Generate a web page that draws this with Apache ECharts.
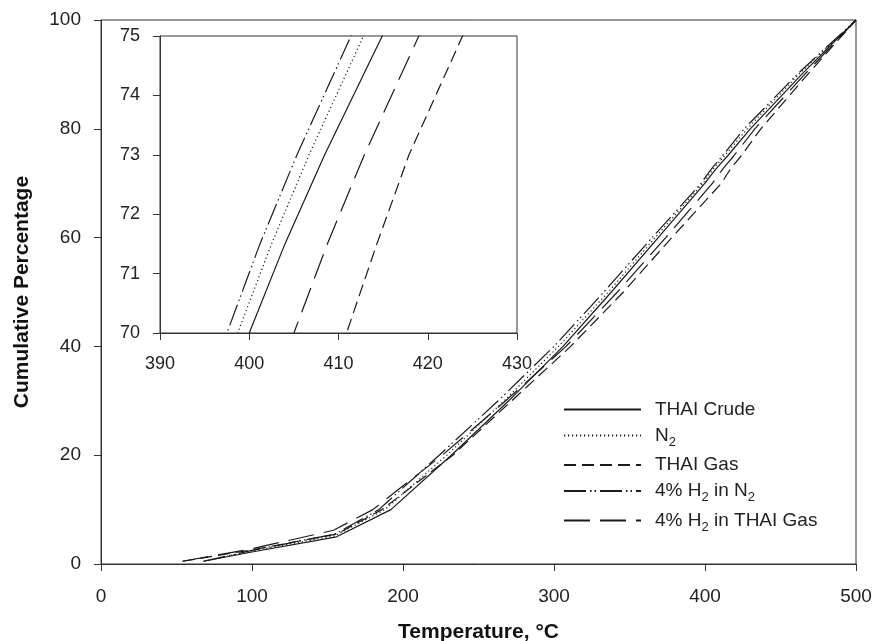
<!DOCTYPE html>
<html><head><meta charset="utf-8">
<script src="https://cdn.jsdelivr.net/npm/echarts@6/dist/echarts.min.js"></script>
<style>html,body{margin:0;padding:0;background:#fff}#c{width:875px;height:641px}</style>
</head><body><div id="c"></div>
<script>
// ---- data (temperature °C, cumulative %) ----
const seriesNames = ['THAI Crude', 'N2', 'THAI Gas', '4% H2 in N2', '4% H2 in THAI Gas'];
const thaiCrude = [[68,0.5],[100,2.2],[156,5],[192,10],[232,20],[270,30],[306,40],[338,50],[369,60],[400,70],[404.0,71.5],[408.45,73],[414.9,75],[430,80],[464,90],[500,100]];
const n2 = [[68,0.5],[100,2.4],[155,5.2],[188,10],[229,20],[267,30],[303,40],[336,50],[367,60],[398.7,70],[402.5,71.5],[406.7,73],[412.8,75],[428,80],[462,90],[500,100]];
const thaiGas = [[54,0.5],[100,2.6],[156,5.5],[186,10],[233,20],[272,30],[311,40],[346,50],[378,60],[410.9,70],[414.3,71.5],[417.9,73],[423.9,75],[437,80],[468,90],[500,100]];
const h2InN2 = [[68,0.5],[100,2.5],[155,5.5],[184,10],[224,20],[263,30],[300,40],[333,50],[365,60],[397.5,70],[401.2,71.5],[405.35,73],[411.4,75],[426,80],[461,90],[500,100]];
const h2InThaiGas = [[54,0.5],[100,2.8],[154,6.2],[180,10],[226,20],[268,30],[308,40],[342,50],[374,60],[405,70],[408.75,71.5],[412.9,73],[419,75],[433,80],[466,90],[500,100]];
const mainXTicks = [0, 500, 100];   // min, max, interval
const mainYTicks = [0, 100, 20];
const insetXTicks = [390, 430, 10];
const insetYTicks = [70, 75, 1];

const dataSets = [thaiCrude, n2, thaiGas, h2InN2, h2InThaiGas];
const dashTypes = ['solid', [1.2, 2.8], [12, 6], [22, 4, 1.5, 3, 1.5, 4], [26, 10]];
const FONT = "'Liberation Sans', Arial, sans-serif";
const AX = '#333';
const LINE = '#1a1a1a';

function axisCommon(fs, margin) {
  return {
    axisLine: {show: true, onZero: false, lineStyle: {color: AX, width: 1}},
    axisTick: {show: true, inside: false, length: 7, lineStyle: {color: AX}},
    axisLabel: {color: '#222', fontSize: fs, fontFamily: FONT, margin: margin},
    splitLine: {show: false}
  };
}

const series = [];
dataSets.forEach((d, i) => {
  [0, 1].forEach(g => {
    series.push({
      name: seriesNames[i], type: 'line', data: d,
      xAxisIndex: g, yAxisIndex: g,
      symbol: 'none', showSymbol: false, smooth: false, clip: true,
      itemStyle: {color: LINE},
      lineStyle: {color: LINE, width: 1.2, type: dashTypes[i]},
      emphasis: {disabled: true}, silent: true, z: g === 1 ? 10 : 3
    });
  });
});

function legendFmt(name) {
  return name.split(/([NH]2)/).filter(s => s.length).map(s => {
    if (/^[NH]2$/.test(s)) return '{n|' + s[0] + '}{s|2}';
    return '{n|' + s + '}';
  }).join('');
}

const chart = echarts.init(document.getElementById('c'), null, {renderer: 'canvas'});
chart.setOption({
  animation: false,
  backgroundColor: '#fff',
  grid: [
    {left: 101, top: 20, width: 755, height: 544, show: true, borderColor: AX, borderWidth: 1, backgroundColor: 'transparent', containLabel: false, outerBoundsMode: 'none'},
    {left: 160, top: 36, width: 357, height: 297, show: true, borderColor: AX, borderWidth: 1, backgroundColor: '#fff', containLabel: false, outerBoundsMode: 'none', z: 5}
  ],
  xAxis: [
    Object.assign(axisCommon(19, 23), {type: 'value', gridIndex: 0, min: mainXTicks[0], max: mainXTicks[1], interval: mainXTicks[2],
      name: 'Temperature, °C', nameLocation: 'middle', nameGap: 58,
      nameTextStyle: {fontSize: 21, fontWeight: 'bold', fontFamily: FONT, color: '#111'}}),
    Object.assign(axisCommon(18, 22), {type: 'value', gridIndex: 1, min: insetXTicks[0], max: insetXTicks[1], interval: insetXTicks[2], z: 12})
  ],
  yAxis: [
    Object.assign(axisCommon(19, 20), {type: 'value', gridIndex: 0, min: mainYTicks[0], max: mainYTicks[1], interval: mainYTicks[2],
      name: 'Cumulative Percentage', nameLocation: 'middle', nameGap: 68,
      nameTextStyle: {fontSize: 21, fontWeight: 'bold', fontFamily: FONT, color: '#111'}}),
    Object.assign(axisCommon(18, 20), {type: 'value', gridIndex: 1, min: insetYTicks[0], max: insetYTicks[1], interval: insetYTicks[2], z: 12})
  ],
  legend: {
    data: seriesNames, orient: 'vertical', left: 558, top: 395,
    itemWidth: 77, itemHeight: 14, itemGap: 7,
    selectedMode: false,
    formatter: legendFmt,
    itemStyle: {opacity: 0},
    textStyle: {
      color: '#222', fontFamily: FONT, fontSize: 19, padding: [0, 0, 0, 9],
      rich: {
        n: {fontSize: 19, fontFamily: FONT, color: '#222', lineHeight: 26},
        s: {fontSize: 13, fontFamily: FONT, color: '#222', lineHeight: 14, verticalAlign: 'bottom'}
      }
    }
  },
  series: series
});
</script></body></html>
